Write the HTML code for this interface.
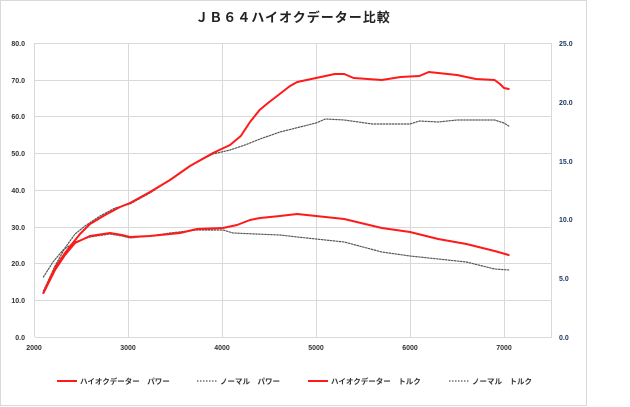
<!DOCTYPE html><html><head><meta charset="utf-8"><style>body{margin:0;background:#fff}svg{display:block}text{font-family:"Liberation Sans","Noto Sans CJK JP",sans-serif}</style></head><body>
<svg width="630" height="407" viewBox="0 0 630 407">
<rect x="0.5" y="0.5" width="586" height="405" fill="#fff" stroke="#d9d9d9"/>
<text x="293" y="22" font-size="13" font-weight="bold" text-anchor="middle" fill="#222" letter-spacing="1">ＪＢ６４ハイオクデーター比較</text>
<g stroke="#d9d9d9" stroke-width="1">
<line x1="35" y1="43.5" x2="552" y2="43.5"/><line x1="35" y1="80.5" x2="552" y2="80.5"/><line x1="35" y1="116.5" x2="552" y2="116.5"/><line x1="35" y1="153.5" x2="552" y2="153.5"/><line x1="35" y1="190.5" x2="552" y2="190.5"/><line x1="35" y1="227.5" x2="552" y2="227.5"/><line x1="35" y1="263.5" x2="552" y2="263.5"/><line x1="35" y1="300.5" x2="552" y2="300.5"/><line x1="35" y1="337.5" x2="552" y2="337.5"/>
<line x1="34.5" y1="43" x2="34.5" y2="337"/><line x1="128.5" y1="43" x2="128.5" y2="337"/><line x1="222.5" y1="43" x2="222.5" y2="337"/><line x1="316.5" y1="43" x2="316.5" y2="337"/><line x1="410.5" y1="43" x2="410.5" y2="337"/><line x1="504.5" y1="43" x2="504.5" y2="337"/><line x1="551.5" y1="43" x2="551.5" y2="337"/>
</g>
<g font-size="7" font-weight="bold" fill="#333" text-anchor="end">
<text x="25" y="46">80.0</text><text x="25" y="83">70.0</text><text x="25" y="119">60.0</text><text x="25" y="156">50.0</text><text x="25" y="193">40.0</text><text x="25" y="230">30.0</text><text x="25" y="266">20.0</text><text x="25" y="303">10.0</text><text x="25" y="340">0.0</text>
</g>
<g font-size="7" font-weight="bold" fill="#1f3864" text-anchor="start">
<text x="559" y="46">25.0</text><text x="559" y="105">20.0</text><text x="559" y="164">15.0</text><text x="559" y="222">10.0</text><text x="559" y="281">5.0</text><text x="559" y="340">0.0</text>
</g>
<g font-size="7" font-weight="bold" fill="#333" text-anchor="middle">
<text x="34" y="350">2000</text><text x="128" y="350">3000</text><text x="222" y="350">4000</text><text x="316" y="350">5000</text><text x="410" y="350">6000</text><text x="504" y="350">7000</text>
</g>
<g fill="none" stroke-linejoin="round" stroke-linecap="round">
<polyline stroke="#555" stroke-width="1.2" stroke-dasharray="1.5 1.5" points="43.4,291 55,266 65,248 75,234 85,226 100,216 115,208 130,204 150,193 170,180 190,166 213,154 230,150 245,145 260,139 280,132 300,127 316,123 325.4,119 344.2,120 372.4,124 410,124 419.4,121 438.2,122 457,120 494.6,120 504,123 508.7,126"/>
<polyline stroke="#555" stroke-width="1.2" stroke-dasharray="1.5 1.5" points="43.4,277 53,262 63,250 75,242 90,237 110,234 122,236 130,238 150,236 170,233 197,230 223,230 233,233 255,234 280,235 297.2,237 316,239 344.2,242 381.8,252 410,256 438.2,259 466.4,262 494.6,269 508.7,270"/>
<polyline stroke="#ff1a1a" stroke-width="2" points="43.4,293 55,268 65,253 72,244 80,234 90,224 105,215 120,207 130,203 150,192 170,180 190,166 213,153 230,145 240.8,136 250,122 259.6,110 268,103 278.4,95 290,86 297.2,82 316,78 334.8,74 344.2,74 353.6,78 381.8,80 400.6,77 419.4,76 428.8,72 457,75 475.8,79 494.6,80 500,84 504,88 508.7,89"/>
<polyline stroke="#ff1a1a" stroke-width="2" points="43.4,293 55,270 65,255 75,243 90,236 110,233 122,235 130,237 150,236 180,233 197,229 223,228 237,225 250,220 260,218 280,216 297.2,214 316,216 344.2,219 381.8,228 410,232 438.2,239 466.4,244 494.6,251 508.7,255"/>
</g>
<g font-size="7.5" font-weight="bold" fill="#333">
<line x1="57" y1="381" x2="77" y2="381" stroke="#ff1a1a" stroke-width="2"/><text x="80" y="384">ハイオクデーター　パワー</text>
<line x1="197" y1="381" x2="217" y2="381" stroke="#555" stroke-width="1.2" stroke-dasharray="1.5 1.5"/><text x="220" y="384">ノーマル　パワー</text>
<line x1="308" y1="381" x2="328" y2="381" stroke="#ff1a1a" stroke-width="2"/><text x="331" y="384">ハイオクデーター　トルク</text>
<line x1="449" y1="381" x2="469" y2="381" stroke="#555" stroke-width="1.2" stroke-dasharray="1.5 1.5"/><text x="472" y="384">ノーマル　トルク</text>
</g>
</svg></body></html>
